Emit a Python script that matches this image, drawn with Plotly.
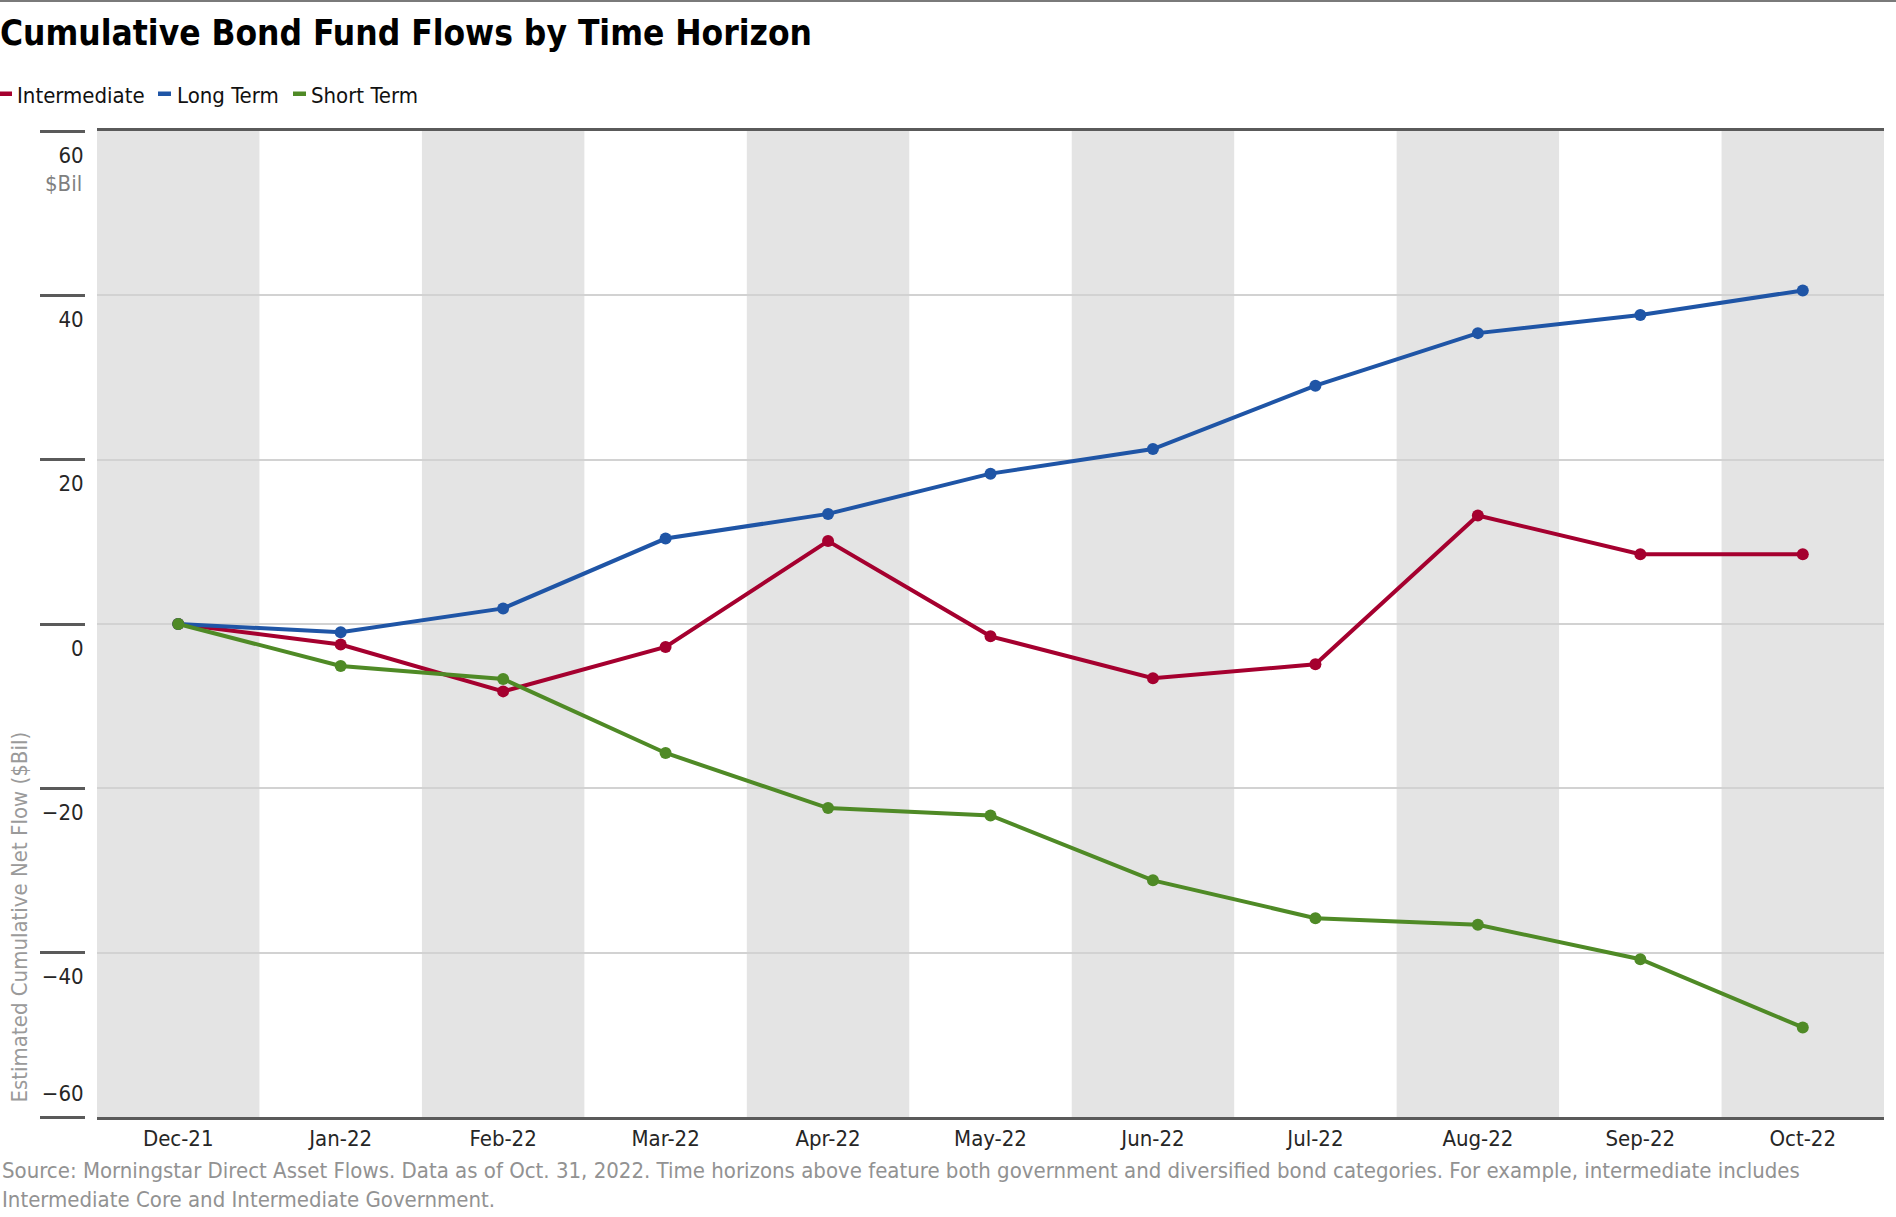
import plotly.graph_objects as go

months = ["Dec-21", "Jan-22", "Feb-22", "Mar-22", "Apr-22", "May-22",
          "Jun-22", "Jul-22", "Aug-22", "Sep-22", "Oct-22"]
intermediate = [0, -2.5, -8.2, -2.8, 10.1, -1.5, -6.6, -4.9, 13.2, 8.5, 8.5]
long_term = [0, -1.0, 1.9, 10.4, 13.4, 18.3, 21.3, 29.0, 35.4, 37.6, 40.6]
short_term = [0, -5.1, -6.7, -15.7, -22.4, -23.3, -31.2, -35.8, -36.6, -40.8, -49.1]

series_names = ["Intermediate", "Long Term", "Short Term"]
series_colors = ["#A5002F", "#1F55A6", "#4F8A26"]
y_tickvals = [-60, -40, -20, 0, 20, 40, 60]
y_ticktext = ["", "\u221240", "\u221220", "0", "20", "40", "60"]
y_bottom_val = [-60]
y_bottom_text = ["\u221260"]

title_text = "Cumulative Bond Fund Flows by Time Horizon"
y_title = "Estimated Cumulative Net Flow ($Bil)"
unit_text = "$Bil"
source_text = ("Source: Morningstar Direct Asset Flows. Data as of Oct. 31, 2022. Time horizons above feature both "
               "government and diversified bond categories. For example, intermediate includes<br>"
               "Intermediate Core and Intermediate Government.")

FONT = "DejaVu Sans Condensed, Liberation Sans Narrow, Roboto Condensed, sans-serif"
W, H = 1896, 1217
ML, MR, MT, MB = 85, 12, 131, 100
PW = W - ML - MR
PH = H - MT - MB


def px_x(px):
    return (px - ML) / PW


def px_y(py):
    return (H - MB - py) / PH


fig = go.Figure()
for name, vals, col in zip(series_names, [intermediate, long_term, short_term], series_colors):
    fig.add_trace(go.Scatter(
        x=months, y=vals, name=name, mode="lines+markers",
        line=dict(color=col, width=4),
        marker=dict(color=col, size=12),
        showlegend=False,
    ))
# empty trace registering the overlay axis used for the bottom tick label
fig.add_trace(go.Scatter(x=[], y=[], yaxis="y2", showlegend=False, hoverinfo="skip"))

shapes = []
# alternating gray column bands
for i in range(0, len(months), 2):
    shapes.append(dict(type="rect", xref="x", yref="paper", x0=i - 0.5, x1=i + 0.5,
                       y0=0, y1=1, fillcolor="#E4E4E4", line=dict(width=0), layer="below"))
# top rule of figure
shapes.append(dict(type="line", xref="paper", yref="paper", x0=px_x(0), x1=px_x(W),
                   y0=px_y(1), y1=px_y(1), line=dict(color="#7A7A7A", width=2)))

annotations = []
# custom legend
leg_dash = [(0, 12), (158, 171), (293, 306)]
leg_text_x = [15, 175, 309]
for (x0, x1), tx, name, col in zip(leg_dash, leg_text_x, series_names, series_colors):
    shapes.append(dict(type="rect", xref="paper", yref="paper", x0=px_x(x0), x1=px_x(x1),
                       y0=px_y(96), y1=px_y(91.5), fillcolor=col, line=dict(width=0)))
    annotations.append(dict(text=name, xref="paper", yref="paper", x=px_x(tx), y=px_y(95),
                            xanchor="left", yanchor="middle", showarrow=False,
                            font=dict(family=FONT, size=22, color="#111111")))

annotations.append(dict(text=unit_text, xref="paper", yref="paper", x=px_x(84), y=px_y(184),
                        xanchor="right", yanchor="middle", showarrow=False,
                        font=dict(family=FONT, size=22, color="#7F7F7F")))
annotations.append(dict(text=y_title, xref="paper", yref="paper", x=px_x(19), y=px_y(1105),
                        xanchor="center", yanchor="bottom", textangle=-90, showarrow=False,
                        font=dict(family=FONT, size=22, color="#9A9A9A")))
annotations.append(dict(text=source_text, xref="paper", yref="paper", x=px_x(0), y=px_y(1156),
                        xanchor="left", yanchor="top", align="left", showarrow=False,
                        font=dict(family=FONT, size=22, color="#929292")))

tickfont = dict(family=FONT, size=22, color="#262626")
fig.update_layout(
    width=W, height=H,
    margin=dict(l=ML, r=MR, t=MT, b=MB),
    paper_bgcolor="white", plot_bgcolor="white",
    title=dict(text=title_text, xref="container", yref="container", x=0, xanchor="left",
               y=1 - 33 / H, yanchor="middle",
               font=dict(family=FONT, size=35, color="#000000", weight="bold")),
    xaxis=dict(type="category", range=[-0.5, len(months) - 0.5], domain=[12 / PW, 1],
               showgrid=False, zeroline=False, showline=True, mirror=True,
               linecolor="#5A5A5A", linewidth=3, ticks="",
               tickfont=tickfont, anchor="y"),
    yaxis=dict(range=[-60, 60], anchor="free", position=0, tickvals=y_tickvals, ticktext=y_ticktext,
               showgrid=True, gridcolor="#D2D2D2", gridwidth=2, zeroline=False, showline=False,
               ticks="outside", ticklen=45, tickwidth=3, tickcolor="#5A5A5A",
               ticklabelstandoff=-48, ticklabelshift=24, tickfont=tickfont),
    yaxis2=dict(range=[-60, 60], overlaying="y", anchor="free", position=0, side="left",
                tickvals=y_bottom_val, ticktext=y_bottom_text,
                showgrid=False, zeroline=False, showline=False,
                ticks="outside", ticklen=45, tickwidth=1, tickcolor="rgba(0,0,0,0)",
                ticklabelstandoff=-48, ticklabelshift=-24, tickfont=tickfont),
    shapes=shapes,
    annotations=annotations,
)

fig.write_html("out.html", config={"displayModeBar": False},
               post_script="document.body.style.margin='0px';")
